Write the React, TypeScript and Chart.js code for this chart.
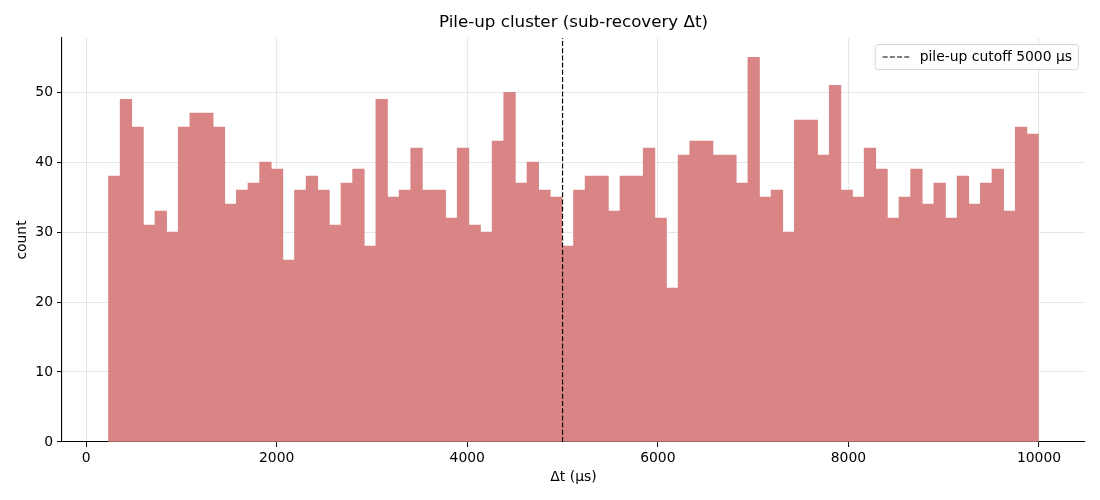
import { useEffect, useRef } from "react";
import { Chart, registerables } from "chart.js";

Chart.register(...registerables);

// histogram of Δt (µs), 80 equal bins
const binStart = 235;
const binWidth = 122;
const counts = [
  38, 49, 45, 31, 33, 30, 45, 47, 47, 45,
  34, 36, 37, 40, 39, 26, 36, 38, 36, 31,
  37, 39, 28, 49, 35, 36, 42, 36, 36, 32,
  42, 31, 30, 43, 50, 37, 40, 36, 35, 28,
  36, 38, 38, 33, 38, 38, 42, 32, 22, 41,
  43, 43, 41, 41, 37, 55, 35, 36, 30, 46,
  46, 41, 51, 36, 35, 42, 39, 32, 35, 39,
  34, 37, 32, 38, 34, 37, 39, 33, 45, 44,
];
const cutoff = 5000;
const cutoffLabel = "pile-up cutoff 5000 μs";
const titleText = "Pile-up cluster (sub-recovery Δt)";

const xTicks = [0, 2000, 4000, 6000, 8000, 10000];
const yTicks = [0, 10, 20, 30, 40, 50];
const xMin = -253;
const xMax = 10483;
const yMax = 57.75;

const FONT = "'DejaVu Sans', sans-serif";
const BAR_COLOR = "#d98585";
const GRID = "rgba(176,176,176,0.3)";

// matplotlib-style title, centred over the plot area
const axesTitle = {
  id: "axesTitle",
  afterDraw(chart: any) {
    const { ctx, chartArea } = chart;
    ctx.save();
    ctx.font = `16.7px ${FONT}`;
    ctx.fillStyle = "#000";
    ctx.textAlign = "center";
    ctx.textBaseline = "middle";
    ctx.fillText(titleText, (chartArea.left + chartArea.right) / 2, chartArea.top - 15);
    ctx.restore();
  },
};

const legendBox = {
  id: "legendBox",
  afterDraw(chart: any) {
    const { ctx, chartArea } = chart;
    const ds = chart.data.datasets.find((d: any) => d.type === "line");
    if (!ds) return;
    ctx.save();
    ctx.font = `13.9px ${FONT}`;
    const tw = ctx.measureText(ds.label).width;
    const w = 8 + 28 + 9 + tw + 6;
    const h = 25;
    const x = chartArea.right - 7 - w;
    const y = chartArea.top + 6;
    ctx.beginPath();
    ctx.roundRect(x + 0.5, y + 0.5, w, h, 3);
    ctx.fillStyle = "rgba(255,255,255,0.8)";
    ctx.fill();
    ctx.strokeStyle = "#d6d6d6";
    ctx.lineWidth = 1;
    ctx.stroke();
    ctx.beginPath();
    ctx.setLineDash(ds.borderDash);
    ctx.strokeStyle = ds.borderColor;
    ctx.lineWidth = ds.borderWidth;
    ctx.moveTo(x + 8, y + h / 2 + 0.5);
    ctx.lineTo(x + 36, y + h / 2 + 0.5);
    ctx.stroke();
    ctx.setLineDash([]);
    ctx.fillStyle = "#000";
    ctx.textBaseline = "middle";
    ctx.fillText(ds.label, x + 45, y + h / 2 + 1);
    ctx.restore();
  },
};

export default function App() {
  const canvasRef = useRef<HTMLCanvasElement | null>(null);

  useEffect(() => {
    document.body.style.margin = "0";
    const canvas = canvasRef.current;
    if (!canvas) return;

    const bars = counts.map((c, i) => ({ x: binStart + binWidth * (i + 0.5), y: c }));

    const chart = new Chart(canvas, {
      type: "bar",
      data: {
        datasets: [
          {
            type: "line",
            label: cutoffLabel,
            data: [
              { x: cutoff, y: 0 },
              { x: cutoff, y: yMax },
            ],
            borderColor: "#000",
            borderWidth: 1.2,
            borderDash: [5, 2.2],
            pointRadius: 0,
            order: 0,
          } as any,
          {
            type: "bar",
            label: "count",
            data: bars,
            backgroundColor: BAR_COLOR,
            borderWidth: 0,
            barPercentage: 1,
            categoryPercentage: 1,
            order: 1,
          },
        ],
      },
      options: {
        animation: false,
        responsive: true,
        maintainAspectRatio: false,
        layout: { padding: { left: 0, right: 15, top: 38, bottom: 0 } },
        plugins: {
          legend: { display: false },
          tooltip: { enabled: false },
          title: { display: false },
        },
        scales: {
          x: {
            type: "linear",
            min: xMin,
            max: xMax,
            offset: false,
            z: 1,
            afterBuildTicks: (s: any) => {
              s.ticks = xTicks.map((v) => ({ value: v }));
            },
            afterFit: (s: any) => {
              s.height = 58;
            },
            ticks: {
              color: "#000",
              font: { family: FONT, size: 13.9 },
              padding: 3,
              maxRotation: 0,
              callback: (v: any) => String(v),
            },
            grid: {
              offset: false,
              color: GRID,
              lineWidth: 1.1,
              tickColor: "#000",
              tickLength: 5,
              tickWidth: 1,
            },
            border: { display: true, color: "#000", width: 1.1 },
            title: {
              display: true,
              text: "Δt (μs)",
              color: "#000",
              font: { family: FONT, size: 13.9 },
              padding: { top: 0, bottom: 14.7 },
            },
          },
          y: {
            type: "linear",
            min: 0,
            max: yMax,
            z: 1,
            afterBuildTicks: (s: any) => {
              s.ticks = yTicks.map((v) => ({ value: v }));
            },
            afterFit: (s: any) => {
              s.width = 62;
            },
            ticks: {
              color: "#000",
              font: { family: FONT, size: 13.9 },
              padding: 4,
              callback: (v: any) => String(v),
            },
            grid: { color: GRID, lineWidth: 1.1, tickColor: "#000", tickLength: 5, tickWidth: 1 },
            border: { display: true, color: "#000", width: 1.1 },
            title: {
              display: true,
              text: "count",
              color: "#000",
              font: { family: FONT, size: 13.9 },
              padding: { top: 13.7, bottom: 0 },
            },
          },
        },
      },
      plugins: [axesTitle, legendBox],
    });

    return () => {
      chart.destroy();
    };
  }, []);

  return (
    <div style={{ width: 1100, height: 500, position: "relative", background: "#fff" }}>
      <canvas ref={canvasRef}></canvas>
    </div>
  );
}
